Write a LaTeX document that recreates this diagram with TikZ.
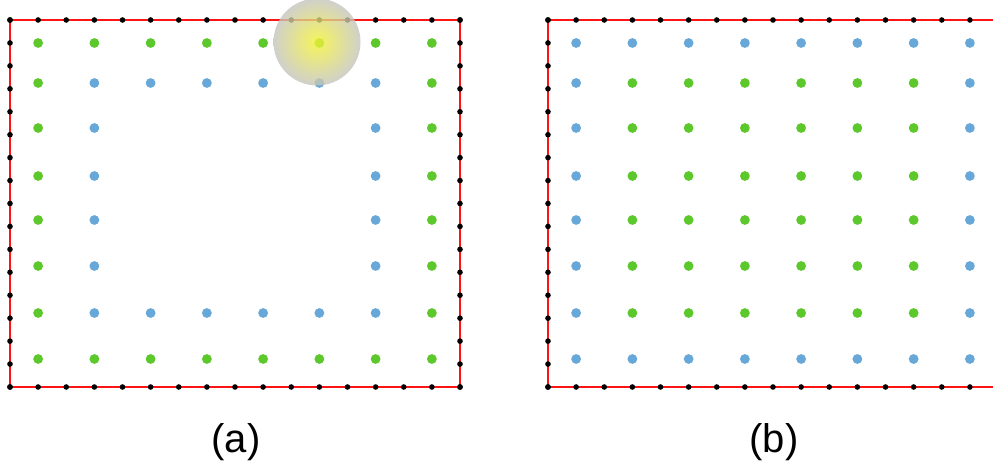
\documentclass[tikz,border=0pt]{standalone}
\usepackage{fontspec}
\setmainfont{Liberation Sans}
\usetikzlibrary{calc}
\definecolor{rim}{HTML}{FF1414}
\definecolor{outer}{HTML}{5CC82C}
\definecolor{inner}{HTML}{68A8D8}
\definecolor{glowcore}{HTML}{F4F232}
\definecolor{glowedge}{HTML}{C4C4BE}
\tikzset{
  wall/.style = {draw=rim, line width=2.6pt},
  node/.style = {fill=black},
  gdot/.style = {fill=outer},
  bdot/.style = {fill=inner},
  glow/.style = {inner color=glowcore, outer color=glowedge, opacity=0.8},
  lbl/.style  = {font=\fontsize{40}{44}\selectfont, inner sep=0pt},
}
% boundary nodes of one panel: #1 = left edge, #2 = 1 if the right edge is shown
\newcommand{\rimdots}[2]{
  \foreach \i in {0,...,16}{
    \fill[node] ({#1+28.125*\i},20) circle (2.8);
    \fill[node] ({#1+28.125*\i},387) circle (2.8);
    \fill[node] (#1,{20+22.9375*\i}) circle (2.8);
    \ifnum#2=1 \fill[node] ({#1+450},{20+22.9375*\i}) circle (2.8);\fi
  }}
% interior points: #1 = left edge, #2 = style of ring 0, #3 = ring 1, #4 = deeper
\newcommand{\gridpts}[4]{
  \foreach \yy [count=\r from 0] in {43,83,128,176,220,266,313,359}{
    \foreach \c in {0,...,7}{
      \pgfmathtruncatemacro\ring{min(\c,7-\c,\r,7-\r)}
      \ifnum\ring=0 \fill[#2] ({#1+28.125*(2*\c+1)},\yy) circle (4.9);
      \else\ifnum\ring=1 \fill[#3] ({#1+28.125*(2*\c+1)},\yy) circle (4.9);
      \else \fill[#4] ({#1+28.125*(2*\c+1)},\yy) circle (4.9);\fi\fi
    }
  }}

\begin{document}
\begin{tikzpicture}[x=1pt,y=-1pt]
\clip (0,0) rectangle (993,470);

% ------------------------------------------------------------------ panel (a)
\draw[wall] (10,20) rectangle (460,387);
\rimdots{10}{1}
\gridpts{10}{gdot}{bdot}{opacity=0}
\shade[glow] (317,42) circle (43.5);
\node[lbl] (tagA) at (236,442) {(a)};

% ------------------------------------------------------------------ panel (b)
\draw[wall] (1000,20) -- (548,20) -- (548,387) -- (1000,387);
\rimdots{548}{0}
\gridpts{548}{bdot}{gdot}{gdot}
\node[lbl] (tagB) at (774,442) {(b)};

\end{tikzpicture}
\end{document}
